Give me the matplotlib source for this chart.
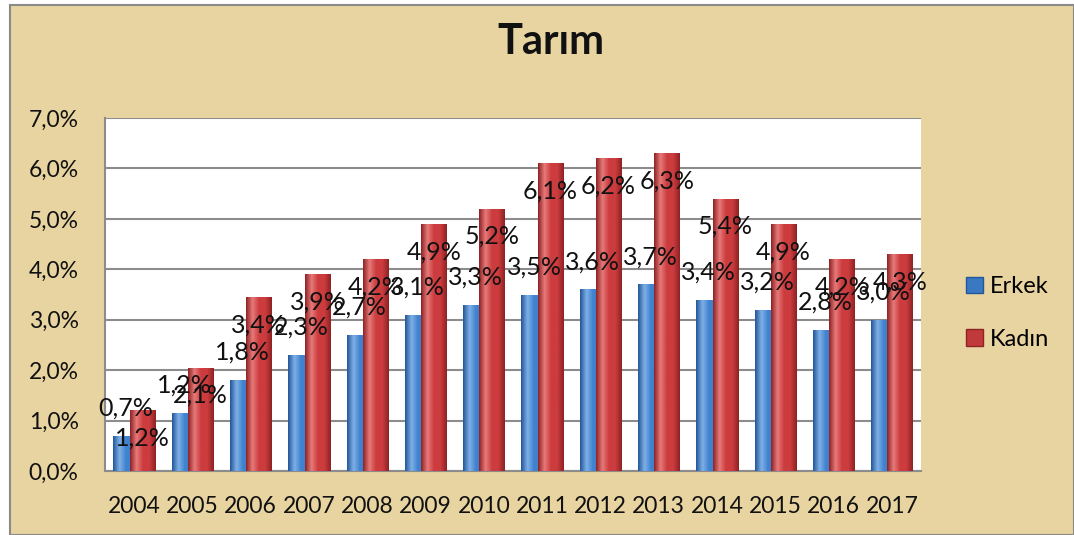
import matplotlib
matplotlib.use("Agg")
import matplotlib.pyplot as plt
import numpy as np
from matplotlib.patches import Rectangle
from matplotlib.ticker import FuncFormatter

years = ["2004", "2005", "2006", "2007", "2008", "2009", "2010",
         "2011", "2012", "2013", "2014", "2015", "2016", "2017"]
erkek = [0.7, 1.15, 1.8, 2.3, 2.7, 3.1, 3.3, 3.5, 3.6, 3.7, 3.4, 3.2, 2.8, 3.0]
kadin = [1.2, 2.05, 3.45, 3.9, 4.2, 4.9, 5.2, 6.1, 6.2, 6.3, 5.4, 4.9, 4.2, 4.3]
erkek_labels = ["0,7%", "1,2%", "1,8%", "2,3%", "2,7%", "3,1%", "3,3%",
                "3,5%", "3,6%", "3,7%", "3,4%", "3,2%", "2,8%", "3,0%"]
kadin_labels = ["1,2%", "2,1%", "3,4%", "3,9%", "4,2%", "4,9%", "5,2%",
                "6,1%", "6,2%", "6,3%", "5,4%", "4,9%", "4,2%", "4,3%"]

plt.rcParams['font.family'] = ['Lato', 'DejaVu Sans']

W, H = 1074, 535
fig = plt.figure(figsize=(W / 100, H / 100), dpi=100)
fig.patch.set_facecolor("white")
fig.patches.append(Rectangle((10 / W, 0), 1 - 10 / W, 1 - 5 / H, transform=fig.transFigure,
                             facecolor="#E8D4A0", edgecolor="#8a8a8a", linewidth=1.5, zorder=-10))

ax = fig.add_axes([105 / W, (535 - 471) / H, (921 - 105) / W, (471 - 118) / H])
ax.set_facecolor("white")

x = np.arange(len(years))
w = 0.43
off = 0.14


def gradient_bars(bars, dark, mid, light):
    cmap = matplotlib.colors.LinearSegmentedColormap.from_list("g", [dark, light, mid, mid, dark])
    grad = np.linspace(0, 1, 64).reshape(1, -1)
    for b in bars:
        bx, by = b.get_x(), b.get_y()
        bw, bh = b.get_width(), b.get_height()
        im = ax.imshow(grad, cmap=cmap, aspect="auto", extent=[bx, bx + bw, by, by + bh],
                       zorder=b.get_zorder() + 0.1)
        im.set_clip_path(b)


b1 = ax.bar(x - off, erkek, w, color="#3A78C2", zorder=3, label="Erkek")
gradient_bars(b1, "#23579A", "#3F82CF", "#7FB0E6")
b2 = ax.bar(x + off, kadin, w, color="#C0393B", zorder=4, label="Kadın")
gradient_bars(b2, "#8F2224", "#CC3C3E", "#E77A7A")

for xi, v, lab in zip(x, erkek, erkek_labels):
    ax.annotate(lab, (xi - off, v), xytext=(0, 20), textcoords="offset points",
                ha="center", va="center", fontsize=18, color="#111111", zorder=10)
for xi, v, lab in zip(x, kadin, kadin_labels):
    ax.annotate(lab, (xi + off, v), xytext=(0, -20), textcoords="offset points",
                ha="center", va="center", fontsize=18, color="#111111", zorder=10)

ax.set_xlim(-0.5, len(years) - 0.5)
ax.set_ylim(0, 7)
ax.set_yticks(np.arange(0, 7.01, 1))
ax.yaxis.set_major_formatter(FuncFormatter(lambda v, p: f"{v:.1f}%".replace(".", ",")))
ax.set_xticks(x)
ax.set_xticklabels(years)
ax.tick_params(axis="both", length=0, labelsize=16.5, colors="#111111")
ax.tick_params(axis="y", pad=19)
ax.tick_params(axis="x", pad=18)
ax.grid(axis="y", color="#8c8c8c", linewidth=1.5, zorder=0)
ax.set_axisbelow(True)
for s in ["top", "right"]:
    ax.spines[s].set_visible(False)
for s in ["left", "bottom"]:
    ax.spines[s].set_color("#8c8c8c")
    ax.spines[s].set_linewidth(1.5)

fig.text(551 / W, 1 - 42 / H, "Tarım", ha="center", va="center", fontsize=30,
         fontweight="bold", color="#111111")

handles = [Rectangle((0, 0), 1, 1, facecolor="#3A78C2", edgecolor="#23579A"),
           Rectangle((0, 0), 1, 1, facecolor="#C0393B", edgecolor="#8F2224")]
fig.legend(handles, ["Erkek", "Kadın"], loc="center left",
           bbox_to_anchor=(945 / W, 1 - 313 / H), frameon=False, fontsize=17,
           handlelength=0.7, handleheight=0.7, handletextpad=0.3, labelspacing=1.35)

fig.savefig("out.png", dpi=100, facecolor=fig.get_facecolor())
